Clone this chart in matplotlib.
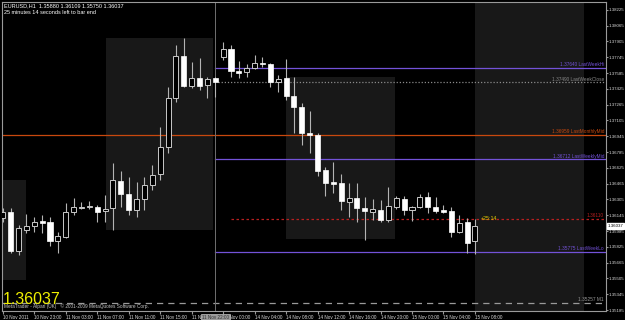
import matplotlib
matplotlib.use("Agg")
import matplotlib.pyplot as plt
import matplotlib.transforms as mtransforms
from matplotlib.patches import Rectangle

# EURUSD H1 candles, oldest first
opens = [1.36117, 1.36178, 1.35783, 1.35995, 1.36036, 1.36087, 1.36077, 1.35884, 1.35925, 1.36178,
         1.36218, 1.36228, 1.36228, 1.36188, 1.36218, 1.36492, 1.36360, 1.36198, 1.36309, 1.36451,
         1.36563, 1.36836, 1.37333, 1.37758, 1.37454, 1.37535, 1.37464, 1.37535, 1.37748, 1.37829,
         1.37606, 1.37596, 1.37636, 1.37687, 1.37677, 1.37495, 1.37535, 1.37353, 1.37241, 1.36978,
         1.36958, 1.36603, 1.36482, 1.36471, 1.36279, 1.36320, 1.36218, 1.36178, 1.36198, 1.36097,
         1.36228, 1.36309, 1.36198, 1.36228, 1.36330, 1.36228, 1.36198, 1.36188, 1.35975, 1.36077,
         1.35880]
highs = [1.36218, 1.36218, 1.36046, 1.36157, 1.36127, 1.36147, 1.36127, 1.35975, 1.36269, 1.36320,
         1.36279, 1.36289, 1.36249, 1.36350, 1.36674, 1.36593, 1.36532, 1.36482, 1.36532, 1.36654,
         1.37039, 1.37444, 1.37870, 1.37940, 1.37697, 1.37738, 1.37545, 1.37545, 1.37900, 1.37870,
         1.37707, 1.37677, 1.37768, 1.37748, 1.37687, 1.37566, 1.37728, 1.37545, 1.37282, 1.37201,
         1.36978, 1.36634, 1.36684, 1.36563, 1.36471, 1.36471, 1.36330, 1.36309, 1.36299, 1.36431,
         1.36340, 1.36340, 1.36239, 1.36360, 1.36380, 1.36330, 1.36249, 1.36228, 1.36147, 1.36117,
         1.36109]
lows = [1.36077, 1.35762, 1.35742, 1.35965, 1.35975, 1.35965, 1.35833, 1.35762, 1.35914, 1.36147,
        1.36208, 1.36208, 1.36077, 1.36077, 1.35995, 1.36228, 1.36147, 1.36127, 1.36198, 1.36401,
        1.36502, 1.36775, 1.37292, 1.37444, 1.37434, 1.37414, 1.37333, 1.37343, 1.37718, 1.37545,
        1.37535, 1.37545, 1.37626, 1.37647, 1.37444, 1.37393, 1.37312, 1.36978, 1.36856, 1.36775,
        1.36542, 1.36340, 1.36370, 1.36198, 1.36127, 1.36077, 1.35894, 1.36097, 1.36077, 1.36077,
        1.36208, 1.36147, 1.36087, 1.36218, 1.36168, 1.36168, 1.36168, 1.35925, 1.35965, 1.35762,
        1.35750]
closes = [1.36178, 1.35783, 1.36016, 1.36036, 1.36077, 1.36066, 1.35884, 1.35935, 1.36178, 1.36228,
          1.36228, 1.36239, 1.36178, 1.36208, 1.36502, 1.36360, 1.36198, 1.36309, 1.36451, 1.36553,
          1.36836, 1.37333, 1.37758, 1.37454, 1.37535, 1.37454, 1.37525, 1.37490, 1.37829, 1.37606,
          1.37586, 1.37636, 1.37687, 1.37677, 1.37495, 1.37525, 1.37353, 1.37241, 1.36978, 1.36958,
          1.36593, 1.36471, 1.36461, 1.36289, 1.36320, 1.36218, 1.36188, 1.36208, 1.36097, 1.36239,
          1.36320, 1.36198, 1.36228, 1.36330, 1.36228, 1.36188, 1.36178, 1.35975, 1.36066, 1.35864,
          1.36037]

# time axis labels (every 4 bars)
time_ticks = [0, 4, 8, 12, 16, 20, 24, 28, 32, 36, 40, 44, 48, 52, 56, 60]
time_labels = ["10 Nov 2011", "10 Nov 23:00", "11 Nov 03:00", "11 Nov 07:00", "11 Nov 11:00",
               "11 Nov 15:00", "11 Nov 19:00", "14 Nov 00:00", "14 Nov 04:00", "14 Nov 08:00",
               "14 Nov 12:00", "14 Nov 16:00", "14 Nov 20:00", "15 Nov 00:00", "15 Nov 04:00",
               "15 Nov 08:00"]

price_ticks = [1.35185, 1.35345, 1.35505, 1.35665, 1.35825, 1.35985, 1.36145, 1.36305, 1.36465,
               1.36625, 1.36785, 1.36945, 1.37105, 1.37265, 1.37425, 1.37585, 1.37745, 1.37905,
               1.38065, 1.38225]

# session boxes: start bar, end bar, top, bottom
box_start = [-0.3, 13.1, 36.0, 60.0]
box_end = [2.9, 26.7, 49.9, 73.8]
box_top = [1.36502, 1.37940, 1.37545, 1.3900]
box_bottom = [1.35489, 1.35995, 1.35904, 1.3400]

# indicator levels
level_names = ["LastWeekHi", "LastWeekClose", "LastMonthlyMid", "LastWeeklyMid", "", "LastWeekLo", "M1"]
level_values = [1.37640, 1.37490, 1.36959, 1.36712, 1.36110, 1.35775, 1.35257]
level_start = [27.0, 27.3, -1.0, 27.0, 29.0, 27.0, -1.0]
level_colors = ["#7352d8", "#8a8a8a", "#c8480e", "#7352d8", "#b82020", "#7352d8", "#9a9a9a"]
level_styles = ["-", (0, (1, 1.5)), "-", "-", (0, (2, 2)), "-", (0, (5, 4))]

bid = 1.36037
crosshair_bar = 27

W, H = 625, 320
fig = plt.figure(figsize=(W / 100, H / 100), dpi=100)
fig.patch.set_facecolor("black")
ax = fig.add_axes([2 / W, 9 / H, 604 / W, 309 / H])
ax.set_facecolor("black")
ax.set_xlim(-0.1, 76.65)
ax.set_ylim(1.35175, 1.38305)

# session shading
for s, e, t, b in zip(box_start, box_end, box_top, box_bottom):
    ax.add_patch(Rectangle((s, b), e - s, t - b, facecolor="#181818", edgecolor="none", zorder=0))

# levels
for name, v, s, c, ls in zip(level_names, level_values, level_start, level_colors, level_styles):
    ax.plot([s, 80], [v, v], color=c, lw=0.9, ls=ls, zorder=1)
    txt = "%.5f %s" % (v, name) if name else "%.5f" % v
    ax.text(76.4, v + 0.00006, txt, color=c, fontsize=3.4,
            ha="right", va="bottom", family="Liberation Sans", zorder=5)

# crosshair
ax.axvline(crosshair_bar, color="#707070", lw=0.7, zorder=1)

# candles
x = list(range(len(opens)))
ax.vlines(x, lows, highs, color="#b4b4b4", lw=0.8, zorder=2)
for i, (o, c) in enumerate(zip(opens, closes)):
    lo, hi = min(o, c), max(o, c)
    h = max(hi - lo, 0.00004)
    if c >= o:
        ax.add_patch(Rectangle((i - 0.32, lo), 0.64, h, facecolor="black", edgecolor="#c8c8c8",
                               lw=0.7, zorder=3))
    else:
        ax.add_patch(Rectangle((i - 0.32, lo), 0.64, h, facecolor="white", edgecolor="white",
                               lw=0.5, zorder=3))

# axes styling
for sp in ax.spines.values():
    sp.set_color("#9a9a9a")
    sp.set_linewidth(0.8)
ax.yaxis.tick_right()
ax.set_yticks(price_ticks)
ax.set_yticklabels(["%.5f" % p for p in price_ticks])
ax.tick_params(axis="y", colors="#9a9a9a", labelcolor="#d8d8d8", labelsize=3.2, length=1.5, pad=0.6)
ax.set_xticks(time_ticks)
ax.set_xticklabels(time_labels, ha="left")
ax.tick_params(axis="x", colors="#9a9a9a", labelcolor="#d8d8d8", labelsize=3.3, length=2, pad=1)
for lab in ax.get_xticklabels() + ax.get_yticklabels():
    lab.set_family("Liberation Sans")

# crosshair time box on the time scale
ax.text(crosshair_bar, -0.012, "11 Nov 22:00", transform=mtransforms.blended_transform_factory(ax.transData, ax.transAxes),
        fontsize=3.3, color="#303030", va="top", ha="center", family="Liberation Sans",
        bbox=dict(boxstyle="square,pad=0.25", facecolor="#9a9a9a", edgecolor="#c0c0c0", lw=0.5),
        clip_on=False, zorder=6)

# current price box on the price scale
ax.text(1.002, bid, "%.5f" % bid, transform=mtransforms.blended_transform_factory(ax.transAxes, ax.transData),
        fontsize=3.2, color="black", va="center", ha="left", family="Liberation Sans",
        bbox=dict(boxstyle="square,pad=0.15", facecolor="white", edgecolor="white"), clip_on=False)

# header and other labels
fig.text(4 / W, 1 - 6 / H, "EURUSD,H1  1.35880 1.36109 1.35750 1.36037", color="white",
         fontsize=4, va="center", family="Liberation Sans")
fig.text(4 / W, 1 - 12 / H, "25 minutes 14 seconds left to bar end", color="white",
         fontsize=4, va="center", family="Liberation Sans")
fig.text(3 / W, 1 - 300 / H, "%.5f" % bid, color="#f0f000", fontsize=11.5, va="center",
         family="Liberation Sans")
fig.text(4 / W, 1 - 306 / H, "MetaTrader - Alpari (UK)   \u00a9 2001-2009 MetaQuotes Software Corp.",
         color="#c8c8c8", fontsize=3.4, va="center", family="Liberation Sans")
ax.text(60.7, 1.36117, "+25:14", color="#e6d200", fontsize=3.8, va="center", family="Liberation Sans")

fig.savefig("out.png", dpi=100, facecolor="black")
